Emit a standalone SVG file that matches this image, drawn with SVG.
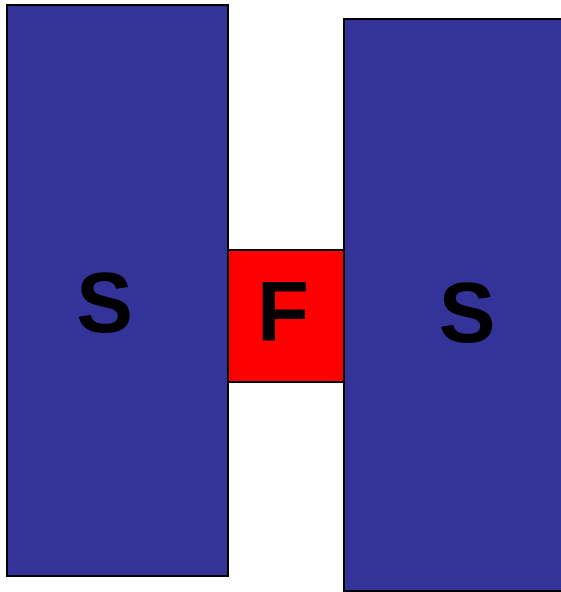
<svg xmlns="http://www.w3.org/2000/svg" width="561" height="592" viewBox="0 0 561 592">
<style>
.s{fill:#333399;stroke:#000;stroke-width:2}
.f{fill:#ff0000;stroke:#000;stroke-width:2}
.t{font-family:"Liberation Sans",Arial,sans-serif;font-weight:bold;fill:#000;text-anchor:middle;font-size:85px}
</style>
<rect width="561" height="592" fill="#fff"/>
<g id="left-s"><rect class="s" x="7" y="5" width="221" height="571"/><text class="t" x="104.5" y="332">S</text></g>
<g id="right-s"><rect class="s" x="344" y="19" width="220" height="572"/><text class="t" x="467" y="342">S</text></g>
<g id="f"><rect class="f" x="228" y="250" width="116" height="132"/><text class="t" x="283" y="341">F</text></g>
<g id="connectors"/>
</svg>
